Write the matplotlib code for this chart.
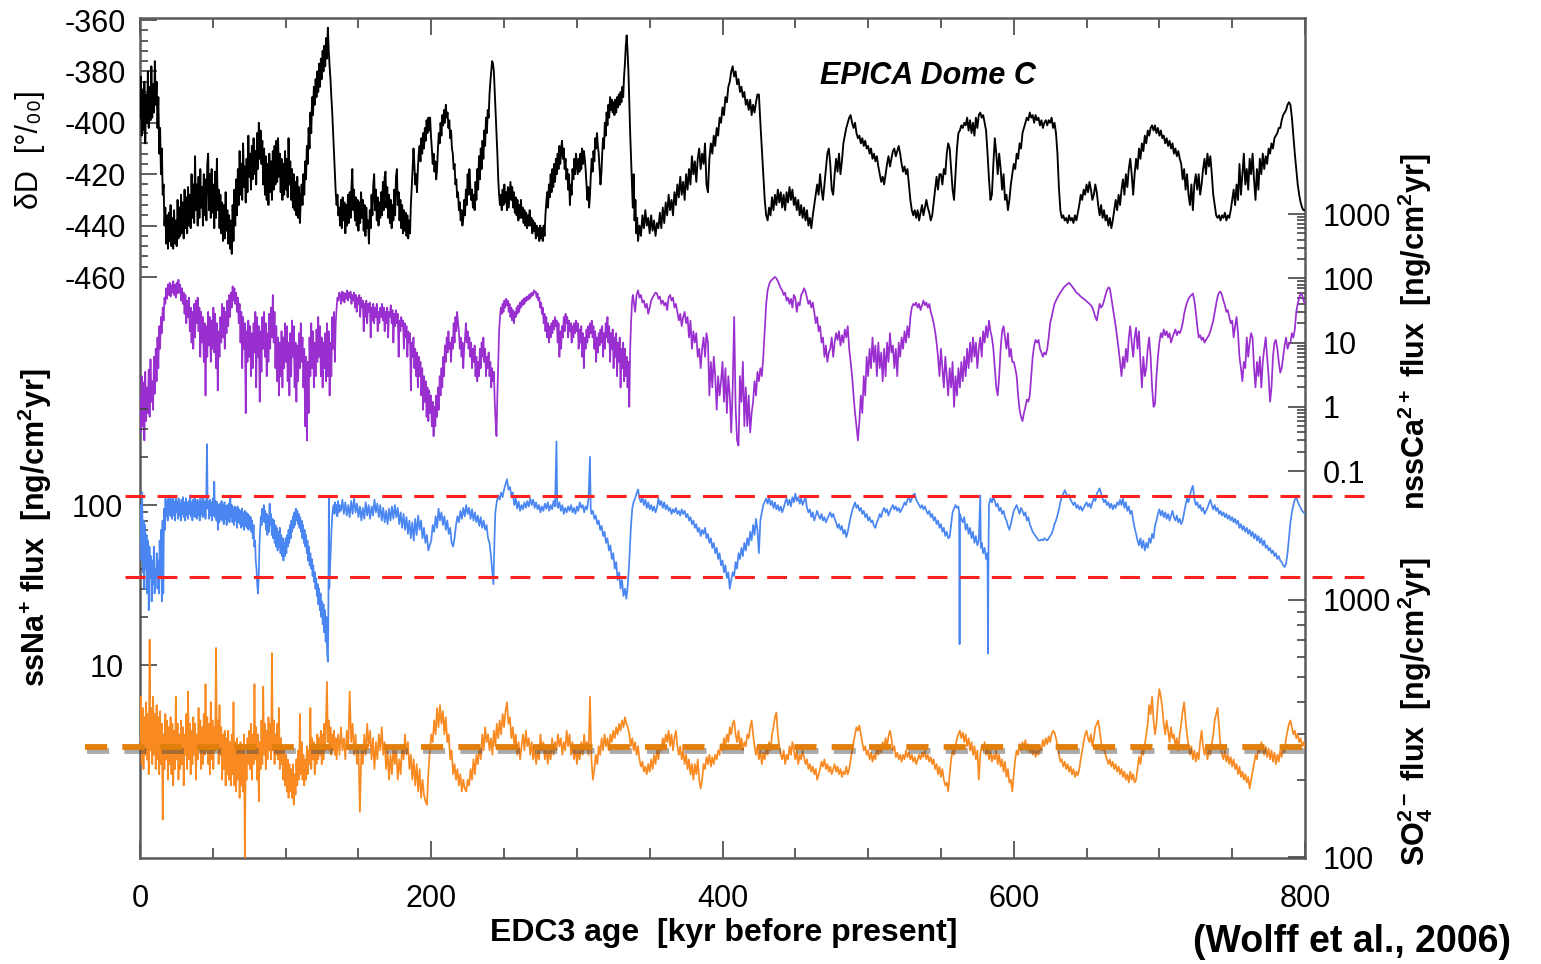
import matplotlib
matplotlib.use("Agg")
import matplotlib.pyplot as plt
from matplotlib import ticker
from matplotlib import patheffects as pe

plt.rcParams['font.family'] = ['Liberation Sans', 'DejaVu Sans']
plt.rcParams['mathtext.fontset'] = 'custom'
plt.rcParams['mathtext.rm'] = 'Liberation Sans:bold'
plt.rcParams['mathtext.it'] = 'Liberation Sans:bold:italic'
plt.rcParams['mathtext.bf'] = 'Liberation Sans:bold'
plt.rcParams['mathtext.default'] = 'rm'

# ---------------- data (age kyr BP, value) ----------------
dD_pts = [
(0,-398),(0.6,-382),(1.2,-405),(1.8,-387),(2.4,-403),(3,-384),(3.6,-408),(4.2,-389),(4.8,-400),(5.4,-380),(6,-402),(6.6,-386),
(7.2,-399),(7.8,-378),(8.4,-398),(9,-385),(9.6,-396),(10.2,-376),(10.8,-393),(11.4,-384),(12,-402),(12.6,-390),(13.2,-412),
(13.8,-402),(14.4,-420),(15,-410),(15.6,-428),(16.2,-424),(16.8,-440),
(17.4,-433),(18,-447),(18.6,-436),(19.2,-449),(19.8,-435),(20.4,-446),(21,-432),(21.6,-448),(22.2,-437),(22.8,-449),(23.4,-434),
(24,-447),(24.6,-438),(25.2,-448),(25.8,-430),(26.4,-445),(27,-433),(27.6,-444),(28.2,-428),(28.8,-443),(29.4,-431),(30,-445),
(30.6,-426),(31.2,-441),(31.8,-429),(32.4,-443),(33,-425),(33.6,-440),(34.2,-428),(34.8,-441),(35.4,-420),(36,-437),(36.6,-424),
(37.2,-439),(37.8,-413),(38.4,-434),(39,-424),(39.6,-440),(40.2,-421),(40.8,-437),(41.4,-418),(42,-433),(42.6,-425),(43.2,-440),
(43.8,-420),(44.4,-436),(45,-422),(45.6,-438),(46.2,-416),(46.8,-412),(47.4,-434),(48,-420),(48.6,-437),(49.2,-418),(49.8,-435),
(50.4,-424),(51,-441),(51.6,-419),(52.2,-437),(52.8,-414),(53.4,-434),(54,-426),(54.6,-441),(55.2,-428),(55.8,-443),(56.4,-431),
(57,-446),(57.6,-432),(58.2,-445),(58.8,-427),(59.4,-442),(60,-434),(60.6,-447),(61.2,-436),(61.8,-449),(62.4,-438),(63,-451),
(63.6,-432),(64.2,-446),
(64.8,-426),(65.4,-440),(66,-422),(66.6,-436),(67.2,-418),(67.8,-432),(68.4,-411),(69,-428),(69.6,-416),(70.2,-430),(70.8,-408),
(71.4,-425),(72,-417),(72.6,-431),(73.2,-414),(73.8,-427),(74.4,-405),(75,-421),(75.6,-412),(76.2,-426),(76.8,-409),(77.4,-422),
(78,-406),(78.6,-420),(79.2,-411),(79.8,-424),(80.4,-404),(81,-418),(81.6,-400),(82.2,-414),(82.8,-403),(83.4,-416),(84,-407),
(84.6,-424),(85.2,-410),(85.8,-428),(86.4,-413),(87,-430),(87.6,-416),(88.2,-432),(88.8,-412),(89.4,-427),(90,-415),(90.6,-430),
(91.2,-411),(91.8,-426),(92.4,-409),(93,-424),(93.6,-407),(94.2,-423),(94.8,-406),(95.4,-421),(96,-412),(96.6,-427),(97.2,-414),
(97.8,-430),(98.4,-416),(99,-428),(99.6,-411),(100.2,-426),(100.8,-414),(101.4,-429),(102,-406),(102.6,-424),(103.2,-415),
(103.8,-430),(104.4,-418),(105,-433),(105.6,-420),(106.2,-434),(106.8,-423),(107.4,-436),(108,-421),(108.6,-437),(109.2,-425),
(109.8,-439),(110.4,-430),
(111,-424),(111.6,-432),(112.2,-420),(112.8,-428),(113.4,-415),(114,-422),(114.6,-409),(115.2,-416),(115.8,-402),(116.4,-410),
(117,-396),(117.6,-404),(118.2,-390),(118.8,-397),(119.4,-386),(120,-393),(120.6,-383),(121.2,-390),(121.8,-380),(122.4,-388),
(123,-377),(123.6,-386),(124.2,-375),(124.8,-383),(125.4,-372),(126,-380),(126.6,-370),(127.2,-378),(127.8,-367),(128.4,-375),
(129,-363),(129.6,-372),(130.2,-378),
(130.8,-383),(131.4,-390),(132,-396),(132.6,-404),(133.2,-412),(133.8,-420),(134.4,-427),(135,-432),(135.6,-428),(136.2,-436),
(136.8,-433),
(137.4,-440),(138,-430),(138.6,-441),(139.2,-429),(139.8,-438),(140.4,-431),(141,-443),(141.6,-432),(142.2,-440),(142.8,-428),
(143.4,-439),(144,-427),(144.6,-437),(145.2,-425),(145.8,-418),(146.4,-434),(147,-426),(147.6,-438),(148.2,-429),(148.8,-440),
(149.4,-430),(150,-442),(150.6,-431),(151.2,-439),(151.8,-427),(152.4,-437),(153,-430),(153.6,-442),(154.2,-432),(154.8,-444),
(155.4,-433),(156,-441),(156.6,-438),(157.2,-447),(157.8,-434),(158.4,-441),(159,-428),(159.6,-436),(160.2,-424),(160.8,-420),
(161.4,-434),(162,-426),(162.6,-438),(163.2,-429),(163.8,-440),(164.4,-431),(165,-437),(165.6,-427),(166.2,-436),(166.8,-423),
(167.4,-434),(168,-421),(168.6,-419),(169.2,-433),(169.8,-425),(170.4,-437),(171,-428),(171.6,-439),(172.2,-430),(172.8,-441),
(173.4,-432),(174,-438),(174.6,-426),(175.2,-436),(175.8,-421),(176.4,-418),(177,-432),(177.6,-427),(178.2,-438),(178.8,-430),
(179.4,-441),(180,-432),(180.6,-443),(181.2,-434),(181.8,-442),(182.4,-435),(183,-444),(183.6,-436),(184.2,-445),(184.8,-438),
(185.4,-443),
(186,-432),(186.6,-425),(187.2,-418),(187.8,-410),(188.4,-416),(189,-424),(189.6,-420),(190.2,-427),(190.8,-418),(191.4,-412),
(192,-409),(192.6,-415),(193.2,-406),(193.8,-412),(194.4,-404),(195,-410),(195.6,-402),(196.2,-407),(196.8,-399),(197.4,-404),
(198,-398),(198.6,-403),(199.2,-398),(199.8,-405),(200.4,-410),(201,-416),(201.6,-412),(202.2,-419),(202.8,-415),(203.4,-422),
(204,-418),(204.6,-410),(205.2,-404),(205.8,-408),(206.4,-400),(207,-405),(207.6,-397),(208.2,-401),(208.8,-395),(209.4,-400),
(210,-393),(210.6,-398),(211.2,-396),(211.8,-402),(212.4,-399),(213,-406),(213.6,-403),(214.2,-410),(214.8,-412),(215.4,-418),
(216,-416),(216.6,-424),(217.2,-422),(217.8,-429),(218.4,-427),(219,-434),(219.6,-431),(220.2,-438),(220.8,-434),(221.4,-440),
(222,-437),(222.6,-430),(223.2,-436),(223.8,-426),(224.4,-432),(225,-420),(225.6,-428),(226.2,-418),(226.8,-425),(227.4,-430),
(228,-426),(228.6,-433),(229.2,-428),(229.8,-434),(230.4,-423),(231,-430),(231.6,-418),(232.2,-426),(232.8,-413),(233.4,-422),
(234,-410),(234.6,-418),(235.2,-407),(235.8,-414),(236.4,-403),(237,-409),(237.6,-398),(238.2,-404),(238.8,-395),(239.4,-398),
(240,-389),(240.6,-384),(241.2,-380),(241.8,-376),(242.4,-377),(243,-380),(243.6,-388),(244.2,-396),(244.8,-403),(245.4,-412),
(246,-422),(246.6,-428),(247.2,-432),
(247.8,-428),(248.4,-434),(249,-426),(249.6,-432),(250.2,-424),(250.8,-431),(251.4,-427),(252,-434),(252.6,-425),(253.2,-433),
(253.8,-428),(254.4,-423),(255,-430),(255.6,-425),(256.2,-433),(256.8,-427),(257.4,-435),(258,-429),(258.6,-436),(259.2,-430),
(259.8,-438),(260.4,-432),(261,-437),(261.6,-430),(262.2,-437),(262.8,-433),(263.4,-439),(264,-434),(264.6,-440),(265.2,-435),
(265.8,-441),(266.4,-436),(267,-440),(267.6,-434),(268.2,-440),(268.8,-437),(269.4,-443),(270,-438),(270.6,-442),(271.2,-439),
(271.8,-445),(272.4,-440),(273,-444),(273.6,-441),(274.2,-446),(274.8,-440),(275.4,-445),(276,-441),(276.6,-446),(277.2,-440),
(277.8,-444),
(278.4,-436),(279,-431),(279.6,-427),(280.2,-433),(280.8,-424),(281.4,-429),(282,-420),(282.6,-427),(283.2,-418),(283.8,-425),
(284.4,-416),(285,-423),(285.6,-414),(286.2,-420),(286.8,-412),(287.4,-418),(288,-409),(288.6,-416),(289.2,-410),(289.8,-407),
(290.4,-414),(291,-410),(291.6,-418),(292.2,-414),(292.8,-422),(293.4,-418),(294,-426),(294.6,-420),(295.2,-432),(295.8,-424),
(296.4,-428),(297,-418),(297.6,-422),(298.2,-414),(298.8,-420),(299.4,-412),(300,-416),(300.6,-420),(301.2,-414),(301.8,-419),
(302.4,-412),(303,-418),(303.6,-410),(304.2,-416),(304.8,-411),(305.4,-414),(306,-418),(306.6,-424),(307.2,-430),(307.8,-425),
(308.4,-433),(309,-428),(309.6,-420),(310.2,-414),(310.8,-419),(311.4,-411),(312,-415),(312.6,-406),(313.2,-410),(313.8,-404),
(314.4,-409),(315,-412),(315.6,-418),(316.2,-424),(316.8,-420),(317.4,-412),(318,-406),(318.6,-410),(319.2,-400),(319.8,-405),
(320.4,-396),(321,-401),(321.6,-393),(322.2,-398),(322.8,-390),(323.4,-395),(324,-391),(324.6,-396),(325.2,-392),(325.8,-397),
(326.4,-391),(327,-396),(327.6,-390),(328.2,-394),(328.8,-389),(329.4,-393),(330,-388),(330.6,-392),(331.2,-386),(331.8,-390),
(332.4,-382),(333,-377),(333.6,-370),(334.2,-366),(334.8,-372),
(335.4,-380),(336,-392),(336.6,-404),(337.2,-414),(337.8,-424),(338.4,-433),(339,-420),(339.6,-438),(340.2,-430),(340.8,-443),
(341.4,-437),(342,-446),
(343,-440),(344,-444),(345,-436),(346,-441),(347,-434),(348,-440),(349,-437),(350,-443),(351,-436),(352,-442),(353,-438),(354,-444),
(355,-439),(356,-441),(357,-435),(358,-441),(359,-433),(360,-439),(361,-431),(362,-436),(363,-428),(364,-434),(365,-430),(366,-436),
(367,-427),(368,-432),(369,-424),(370,-429),(371,-421),(372,-428),(373,-423),(374,-430),(375,-420),(376,-426),(377,-418),(378,-424),
(379,-413),(380,-420),(381,-415),(382,-423),(383,-414),(384,-410),(385,-418),(386,-412),(387,-416),(388,-408),(389,-424),(390,-427),
(391,-414),(392,-408),(393,-412),(394,-405),(395,-409),(396,-402),(397,-405),(398,-398),(399,-400),(400,-394),(401,-397),(402,-390),
(403,-392),(404,-386),(405,-384),(406,-380),(407,-378),(408,-382),(409,-380),(410,-385),(411,-383),(412,-388),(413,-386),(414,-390),
(415,-388),(416,-393),(417,-391),(418,-395),(419,-391),(420,-397),(421,-393),(422,-396),(423,-392),(424,-389),(425,-389),(426,-400),
(427,-410),(428,-420),(429,-430),(430,-436),(431,-438),
(432,-433),(433,-436),(434,-429),(435,-434),(436,-428),(437,-432),(438,-426),(439,-431),(440,-427),(441,-433),(442,-428),(443,-434),
(444,-427),(445,-431),(446,-425),(447,-430),(448,-426),(449,-432),(450,-429),(451,-434),(452,-430),(453,-436),(454,-432),(455,-437),
(456,-433),(457,-438),(458,-434),(459,-440),(460,-437),(461,-441),(462,-436),(463,-432),(464,-428),(465,-424),(466,-428),(467,-420),
(468,-426),(469,-430),(470,-424),(471,-418),(472,-412),(473,-410),(474,-416),(475,-426),(476,-428),(477,-420),(478,-414),(479,-419),
(480,-412),(481,-420),(482,-415),(483,-408),(484,-405),(485,-402),(486,-400),(487,-398),(488,-397),(489,-400),(490,-402),(491,-400),
(492,-404),(493,-406),(494,-405),(495,-408),(496,-406),(497,-409),(498,-407),(499,-410),(500,-409),(501,-412),(502,-410),(503,-414),
(504,-412),(505,-415),(506,-413),(507,-417),(508,-420),(509,-423),(510,-421),(511,-424),(512,-420),(513,-416),(514,-413),(515,-417),
(516,-414),(517,-411),(518,-410),(519,-413),(520,-411),(521,-409),(522,-412),(523,-416),(524,-419),(525,-417),(526,-420),(527,-418),
(528,-424),(529,-430),(530,-434),(531,-436),(532,-434),(533,-437),(534,-434),(535,-438),(536,-435),(537,-432),(538,-436),(539,-433),
(540,-430),(541,-433),(542,-435),(543,-438),(544,-436),(545,-431),(546,-426),(547,-421),(548,-426),(549,-420),
(550,-420),(551,-424),(552,-418),(553,-420),(554,-412),(555,-408),(556,-410),(557,-418),(558,-426),(559,-430),(560,-420),(561,-410),
(562,-404),(563,-403),(564,-401),(565,-402),(566,-400),(567,-401),(568,-398),(569,-403),(570,-399),(571,-404),(572,-400),(573,-405),
(574,-398),(575,-402),(576,-397),(577,-396),(578,-398),(579,-397),(580,-400),(581,-403),(582,-412),(583,-422),(584,-430),(585,-428),
(586,-416),(587,-406),(588,-412),(589,-420),(590,-412),(591,-418),(592,-426),(593,-420),(594,-430),(595,-428),(596,-434),(597,-430),
(598,-424),(599,-420),(600,-416),(601,-418),(602,-412),(603,-414),(604,-408),(605,-410),(606,-404),(607,-402),(608,-400),(609,-398),
(610,-399),(611,-396),(612,-398),(613,-397),(614,-400),(615,-397),(616,-399),(617,-398),(618,-401),(619,-399),(620,-402),(621,-400),
(622,-399),(623,-401),(624,-399),(625,-400),(626,-398),(627,-402),(628,-400),(629,-404),(630,-412),(631,-425),(632,-434),(633,-437),
(634,-436),(635,-438),(636,-437),(637,-439),(638,-436),(639,-438),(640,-437),(641,-439),(642,-436),(643,-438),(644,-435),(645,-432),
(646,-428),(647,-430),(648,-426),(649,-428),(650,-424),(651,-427),(652,-423),(653,-426),(654,-430),(655,-428),(656,-424),(657,-427),
(658,-432),(659,-436),(660,-432),(661,-437),(662,-434),(663,-438),(664,-436),(665,-440),(666,-437),(667,-441),(668,-438),(669,-434),
(670,-430),(671,-434),(672,-428),(673,-432),(674,-426),(675,-422),(676,-428),(677,-420),(678,-425),(679,-418),(680,-414),(681,-420),
(682,-428),(683,-420),(684,-414),(685,-418),(686,-410),(687,-414),(688,-408),(689,-411),(690,-405),(691,-408),(692,-403),(693,-405),
(694,-402),(695,-401),(696,-403),(697,-401),(698,-404),(699,-402),(700,-405),(701,-403),(702,-406),(703,-405),(704,-408),(705,-406),
(706,-409),(707,-407),(708,-410),(709,-408),(710,-412),(711,-410),(712,-413),(713,-411),(714,-414),(715,-416),(716,-422),(717,-418),
(718,-426),(719,-420),(720,-428),(721,-432),(722,-424),(723,-434),(724,-424),(725,-420),(726,-426),(727,-420),(728,-428),(729,-424),
(730,-418),(731,-414),(732,-420),(733,-412),(734,-417),(735,-413),(736,-420),(737,-428),(738,-432),(739,-436),(740,-437),(741,-436),
(742,-438),(743,-436),(744,-437),(745,-435),(746,-438),(747,-436),(748,-437),(749,-434),(750,-430),(751,-426),(752,-432),(753,-424),
(754,-430),(755,-416),(756,-428),(757,-420),(758,-412),(759,-424),(760,-418),(761,-426),(762,-414),(763,-420),(764,-412),(765,-422),
(766,-430),(767,-418),(768,-426),(769,-414),(770,-420),(771,-412),(772,-418),(773,-413),(774,-416),(775,-410),(776,-412),(777,-408),
(778,-410),(779,-406),(780,-405),(781,-404),(782,-402),(783,-402),(784,-399),(785,-397),(786,-396),(787,-395),(788,-393),(789,-392),
(790,-393),(791,-398),(792,-405),(793,-412),(794,-418),(795,-424),(796,-428),(797,-431),(798,-433),(799,-434),(800,-434),
]

ca_pts = [
(0,1.5),(0.6,0.4),(1.2,3.0),(1.8,0.5),(2.4,2.4),(3,0.3),(3.6,3.5),(4.2,0.6),(4.8,2.0),(5.4,0.8),(6,3.8),(6.6,0.7),(7.2,5.5),
(7.8,1.2),(8.4,2.5),(9,0.9),(9.6,6),(10.2,1.6),(10.8,8),(11.4,2.5),(12,12),(12.6,4),(13.2,18),(13.8,8),(14.4,25),(15,14),
(15.6,35),(16.2,22),(16.8,50),(17.4,40),(18,70),(18.6,48),(19.2,80),(19.8,55),(20.4,85),(21,52),(21.6,78),(22.2,60),(22.8,90),
(23.4,55),(24,80),(24.6,50),(25.2,85),(25.8,58),(26.4,95),(27,60),(27.6,80),(28.2,45),(28.8,70),(29.4,40),(30,60),(30.6,28),
(31.2,55),(31.8,20),(32.4,45),(33,25),(33.6,50),(34.2,15),(34.8,35),(35.4,10),(36,30),(36.6,8),(37.2,40),(37.8,12),(38.4,45),
(39,20),(39.6,50),(40.2,15),(40.8,35),(41.4,6),(42,30),(42.6,10),(43.2,25),(43.8,5),(44.4,20),(45,1.5),(45.6,18),(46.2,6),
(46.8,30),(47.4,9),(48,25),(48.6,5),(49.2,22),(49.8,8),(50.4,35),(51,7),(51.6,28),(52.2,4),(52.8,20),(53.4,1.8),(54,15),
(54.6,6),(55.2,25),(55.8,10),(56.4,40),(57,12),(57.6,35),(58.2,8),(58.8,30),(59.4,14),(60,45),(60.6,18),(61.2,55),(61.8,25),
(62.4,60),(63,35),(63.6,75),(64.2,45),(64.8,70),(65.4,40),(66,60),(66.6,30),(67.2,50),(67.8,20),(68.4,40),(69,10),(69.6,30),
(70.2,4),(70.8,25),(71.4,8),(72,20),(72.6,0.8),(73.2,15),(73.8,5),(74.4,22),(75,6),(75.6,18),(76.2,3),(76.8,14),(77.4,4),
(78,20),(78.6,7),(79.2,30),(79.8,2),(80.4,25),(81,6),(81.6,18),(82.2,1.2),(82.8,15),(83.4,3.5),(84,25),(84.6,8),(85.2,30),
(85.8,6),(86.4,20),(87,3),(87.6,14),(88.2,5),(88.8,28),(89.4,8),(90,35),(90.6,12),(91.2,55),(91.8,10),(92.4,30),(93,4),
(93.6,18),(94.2,2.5),(94.8,12),(95.4,1.5),(96,10),(96.6,3),(97.2,15),(97.8,2),(98.4,12),(99,4),(99.6,20),(100.2,5),(100.8,18),
(101.4,2.5),(102,10),(102.6,1.5),(103.2,14),(103.8,3),(104.4,22),(105,6),(105.6,18),(106.2,2),(106.8,10),(107.4,1.2),(108,9),
(108.6,2.5),(109.2,14),(109.8,4),(110.4,20),(111,5),(111.6,12),(112.2,2),(112.8,8),(113.4,0.5),(114,6),(114.6,0.3),(115.2,5),
(115.8,0.8),(116.4,12),(117,3),(117.6,20),(118.2,4),(118.8,15),(119.4,2),(120,10),(120.6,3),(121.2,16),(121.8,5),(122.4,25),
(123,6),(123.6,18),(124.2,3),(124.8,12),(125.4,2),(126,10),(126.6,4),(127.2,14),(127.8,2.5),(128.4,20),(129,3),(129.6,15),
(130.2,1.5),(130.8,10),(131.4,3),(132,25),(132.6,8),(133.2,30),(133.8,5),(134.4,20),(135,35),(135.6,50),(136.2,45),(136.8,60),
(137.4,55),(138,40),(138.6,62),(139.2,45),(139.8,60),(140.4,42),(141,58),(141.6,48),(142.2,65),(142.8,45),(143.4,60),(144,50),
(144.6,62),(145.2,40),(145.8,55),(146.4,45),(147,60),(147.6,35),(148.2,55),(148.8,30),(149.4,50),(150,40),(150.6,55),(151.2,25),
(151.8,50),(152.4,35),(153,45),(153.6,15),(154.2,40),(154.8,25),(155.4,45),(156,20),(156.6,40),(157.2,30),(157.8,42),(158.4,12),
(159,35),(159.6,22),(160.2,40),(160.8,20),(161.4,35),(162,25),(162.6,40),(163.2,15),(163.8,30),(164.4,20),(165,35),(165.6,25),
(166.2,40),(166.8,22),(167.4,35),(168,15),(168.6,30),(169.2,20),(169.8,35),(170.4,12),(171,30),(171.6,25),(172.2,38),(172.8,20),
(173.4,32),(174,10),(174.6,28),(175.2,18),(175.8,32),(176.4,20),(177,28),(177.6,6),(178.2,22),(178.8,15),(179.4,25),(180,18),
(180.6,22),(181.2,8),(181.8,20),(182.4,12),(183,18),(183.6,6),(184.2,15),(184.8,10),(185.4,14),(186,1.8),(186.6,10),(187.2,6),
(187.8,12),(188.4,4),(189,8),(189.6,3),(190.2,7),(190.8,2),(191.4,6),(192,3),(192.6,5),(193.2,1.5),(193.8,4),(194.4,0.9),
(195,3),(195.6,1.2),(196.2,2.5),(196.8,0.7),(197.4,2),(198,0.6),(198.6,1.8),(199.2,0.8),(199.8,1.5),(200.4,0.5),(201,1.2),
(201.6,0.35),(202.2,1),(202.8,0.5),(203.4,1.5),(204,0.7),(204.6,2),(205.2,0.9),(205.8,3),(206.4,1.5),(207,4),(207.6,2),
(208.2,6),(208.8,3),(209.4,9),(210,5),(210.6,12),(211.2,7),(211.8,15),(212.4,8),(213,10),(213.6,5),(214.2,12),(214.8,8),
(215.4,20),(216,10),(216.6,25),(217.2,15),(217.8,30),(218.4,20),(219,15),(219.6,8),(220.2,12),(220.8,6),(221.4,10),(222,4),
(222.6,8),(223.2,12),(223.8,20),(224.4,10),(225,15),(225.6,8),(226.2,12),(226.8,6),(227.4,10),(228,4),(228.6,8),(229.2,5),
(229.8,9),(230.4,3),(231,6),(231.6,2.5),(232.2,5),(232.8,3),(233.4,8),(234,4),(234.6,10),(235.2,6),(235.8,12),(236.4,5),
(237,8),(237.6,3),(238.2,6),(238.8,4),(239.4,7),(240,3),(240.6,5),(241.2,2),(241.8,4),(242.4,2.5),(243,3.5),(243.6,1.2),
(244.2,0.6),(244.8,0.35),(245.4,1.5),(246,5),(246.6,15),(247.2,25),(247.8,35),(248.4,28),(249,40),(249.6,30),(250.2,45),
(250.8,35),(251.4,48),(252,38),(252.6,45),(253.2,30),(253.8,40),(254.4,25),(255,35),(255.6,22),(256.2,32),(256.8,20),(257.4,30),
(258,25),(258.6,35),(259.2,28),(259.8,38),(260.4,30),(261,42),(261.6,35),(262.2,45),(262.8,38),(263.4,48),(264,40),(264.6,50),
(265.2,44),(265.8,52),(266.4,46),(267,55),(267.6,48),(268.2,58),(268.8,52),(269.4,60),(270,55),(270.6,65),(271.2,60),(271.8,62),
(272.4,50),(273,58),(273.6,45),(274.2,50),(274.8,35),(275.4,42),(276,28),(276.6,35),(277.2,20),(277.8,28),(278.4,15),(279,25),
(279.6,12),(280.2,20),(280.8,10),(281.4,18),(282,12),(282.6,20),(283.2,14),(283.8,22),(284.4,16),(285,25),(285.6,18),(286.2,22),
(286.8,10),(287.4,20),(288,6),(288.6,15),(289.2,8),(289.8,18),(290.4,12),(291,25),(291.6,15),(292.2,28),(292.8,20),(293.4,25),
(294,12),(294.6,22),(295.2,15),(295.8,20),(296.4,10),(297,18),(297.6,12),(298.2,20),(298.8,14),(299.4,22),(300,15),(300.6,20),
(301.2,8),(301.8,16),(302.4,10),(303,18),(303.6,6),(304.2,14),(304.8,4),(305.4,12),(306,8),(306.6,16),(307.2,10),(307.8,18),
(308.4,12),(309,20),(309.6,14),(310.2,22),(310.8,12),(311.4,18),(312,8),(312.6,15),(313.2,5),(313.8,12),(314.4,7),(315,14),
(315.6,9),(316.2,16),(316.8,10),(317.4,18),(318,6),(318.6,14),(319.2,8),(319.8,20),(320.4,12),(321,25),(321.6,10),(322.2,18),
(322.8,5),(323.4,14),(324,8),(324.6,16),(325.2,4),(325.8,12),(326.4,6),(327,14),(327.6,3),(328.2,10),(328.8,5),(329.4,12),
(330,2),(330.6,8),(331.2,4),(331.8,10),(332.4,2.5),(333,8),(333.6,3),(334.2,6),(334.8,2),(335.4,5),(336,1),(336.6,8),
(337.2,20),(337.8,40),(338.4,55),
(339,45),(340,30),(341,55),(342,65),(343,50),(344,55),(345,42),(346,45),(347,35),(348,40),(349,28),(350,35),(351,45),(352,50),
(353,55),(354,60),(355,58),(356,48),(357,52),(358,40),(359,45),(360,38),(361,42),(362,32),(363,50),(364,55),(365,45),(366,50),
(367,35),(368,40),(369,30),(370,22),(371,28),(372,18),(373,25),(374,30),(375,20),(376,25),(377,12),(378,22),(379,8),(380,15),
(381,10),(382,14),(383,6),(384,8),(385,4),(386,8),(387,12),(388,6),(389,14),(390,10),(391,1.5),(392,5),(393,2),(394,6),(395,3),
(396,0.9),(397,3),(398,1.5),(399,2.5),(400,5),(401,1.2),(402,4),(403,0.8),(404,3),(405,1.5),(406,0.4),(407,2),(408,25),(409,1),
(410,0.3),(411,0.25),(412,3),(413,1.2),(414,5),(415,0.5),(416,2),(417,0.5),(418,1.5),(419,0.4),(420,0.8),(421,1.2),(422,2.5),
(423,1.5),(424,3.5),(425,2.5),(426,4),(427,3),(428,6),(429,15),(430,40),(431,65),(432,80),(433,90),(434,95),(435,100),(436,105),
(437,100),(438,90),(439,80),(440,70),(441,65),(442,55),(443,60),(444,45),(445,50),(446,40),(447,48),(448,35),(449,55),(450,50),
(451,30),(452,42),(453,38),(454,55),(455,60),(456,70),(457,62),(458,50),(459,40),(460,45),(461,35),(462,42),(463,30),(464,20),
(465,25),(466,15),(467,18),(468,10),(469,12),(470,6),(471,9),(472,5),(473,7),(474,8),(475,12),(476,6),(477,10),(478,14),(479,11),
(480,15),(481,9),(482,13),(483,10),(484,16),(485,12),(486,18),(487,8),(488,5),(489,3),(490,1.5),(491,0.8),(492,0.5),(493,0.3),
(494,0.6),(495,1.5),(496,0.8),(497,3),(498,1.5),(499,6),(500,3),(501,8),(502,4),(503,12),(504,5),(505,9),(506,3),(507,10),
(508,4),(509,7),(510,2.5),(511,8),(512,3),(513,10),(514,5),(515,14),(516,7),(517,9),(518,4),(519,8),(520,3),(521,10),(522,6),
(523,12),(524,8),(525,15),(526,10),(527,18),(528,12),(529,25),(530,35),(531,40),(532,38),(533,42),(534,35),(535,40),(536,32),
(537,38),(538,45),(539,38),(540,42),(541,35),(542,40),(543,30),(544,25),(545,20),(546,15),(547,10),(548,6),(549,3),(550,8),
(551,4),(552,2),(553,6),(554,3),(555,1.5),(556,4),(557,2),(558,5),(559,1),(560,3),(561,1.5),(562,4),(563,2),(564,5),(565,2.5),
(566,6),(567,3),(568,8),(569,4),(570,10),(571,5),(572,12),(573,6),(574,10),(575,4),(576,8),(577,12),(578,6),(579,15),(580,10),
(581,18),(582,12),(583,22),(584,15),(585,12),(586,8),(587,4),(588,2),(589,1.5),(590,3),(591,8),(592,15),(593,18),(594,12),
(595,8),(596,14),(597,6),(598,8),(599,5),(600,5),(601,4),(602,3),(603,1.5),(604,0.9),(605,0.7),(606,0.6),(607,0.8),(608,1),
(609,1.3),(610,1.2),(611,1.5),(612,3),(613,6),(614,9),(615,11),(616,10),(617,11),(618,8),(619,7),(620,6),(621,7),(622,6.5),
(623,8),(624,12),(625,20),(626,25),(627,32),(628,40),(629,45),(630,50),(631,55),(632,60),(633,65),(634,70),(635,75),(636,78),
(637,82),(638,85),(639,80),(640,75),(641,70),(642,65),(643,60),(644,58),(645,55),(646,52),(647,50),(648,48),(649,46),(650,44),
(651,42),(652,40),(653,38),(654,35),(655,30),(656,25),(657,22),(658,30),(659,40),(660,35),(661,38),(662,45),(663,55),(664,65),
(665,72),(666,70),(667,50),(668,35),(669,25),(670,18),(671,12),(672,8),(673,5),(674,3),(675,6),(676,4),(677,8),(678,5),(679,12),
(680,18),(681,10),(682,6),(683,12),(684,17),(685,8),(686,15),(687,5),(688,2),(689,6),(690,3),(691,4),(692,8),(693,12),(694,6),
(695,2),(696,1),(697,1.1),(698,3),(699,6),(700,10),(701,14),(702,12),(703,16),(704,13),(705,15),(706,12),(707,14),(708,10),
(709,12),(710,14),(711,16),(712,13),(713,15),(714,14),(715,16),(716,20),(717,28),(718,35),(719,42),(720,48),(721,52),(722,55),
(723,58),(724,45),(725,30),(726,18),(727,12),(728,13),(729,11),(730,12),(731,10),(732,11),(733,12),(734,13),(735,15),(736,18),
(737,22),(738,30),(739,40),(740,52),(741,60),(742,62),(743,55),(744,45),(745,38),(746,30),(747,32),(748,25),(749,20),(750,22),
(751,12),(752,18),(753,25),(754,14),(755,6),(756,4),(757,2.5),(758,5),(759,4),(760,12),(761,6),(762,10),(763,14),(764,12),
(765,4),(766,2),(767,5),(768,3),(769,6),(770,2),(771,5),(772,8),(773,12),(774,6),(775,3),(776,1.2),(777,2),(778,6),(779,10),
(780,11),(781,8),(782,5),(783,3.4),(784,4),(785,6),(786,9),(787,12),(788,8),(789,9.5),(790,10),(791,14),(792,12),(793,16),
(794,30),(795,40),(796,50),(797,58),(798,55),(799,45),(800,40),
]

na_pts = [
(0,60),(0.5,100),(1,45),(1.5,120),(2,38),(2.5,80),(3,30),(3.5,75),(4,40),(4.5,65),(5,28),(5.5,60),(6,22),(6.5,55),(7,35),
(7.5,48),(8,25),(8.5,45),(9,32),(9.5,55),(10,28),(10.5,40),(11,35),(11.5,50),(12,30),(12.5,45),(13,28),(13.5,60),(14,35),
(14.5,70),(15,25),(15.5,80),(16,28),(16.5,95),(17,70),(17.5,110),(18,85),(18.5,105),(19,80),
(19.5,110),(20,88),(20.5,115),(21,85),(21.5,108),(22,82),(22.5,112),(23,86),(23.5,105),(24,80),(24.5,110),(25,90),(25.5,104),
(26,82),(26.5,110),(27,86),(27.5,102),(28,80),(28.5,108),(29,88),(29.5,112),(30,84),(30.5,104),(31,80),(31.5,110),(32,86),
(32.5,104),(33,82),(33.5,106),(34,88),(34.5,115),(35,85),(35.5,104),(36,80),(36.5,108),(37,86),(37.5,112),(38,84),(38.5,105),
(39,82),(39.5,108),(40,86),(40.5,104),(41,80),(41.5,110),(42,88),(42.5,106),(43,84),(43.5,112),(44,86),(44.5,105),(45,82),
(45.5,110),(46,240),(46.5,95),(47,104),(47.5,82),(48,108),(48.5,86),(49,104),(49.5,80),(50,110),(50.5,86),(51,140),(51.5,84),
(52,106),(52.5,80),(53,104),(53.5,70),(54,100),(54.5,78),(55,102),(55.5,82),(56,106),(56.5,80),(57,100),(57.5,76),(58,104),
(58.5,82),(59,98),(59.5,75),(60,100),(60.5,80),(61,102),(61.5,78),(62,115),(62.5,84),(63,100),(63.5,78),(64,96),(64.5,75),
(65,98),(65.5,80),(66,95),(66.5,72),(67,98),(67.5,78),(68,94),(68.5,76),(69,92),(69.5,72),(70,95),(70.5,74),(71,90),(71.5,70),
(72,92),(72.5,74),(73,90),(73.5,72),(74,88),(74.5,70),(75,86),(75.5,72),(76,84),(76.5,68),(77,80),(77.5,62),(78,75),(78.5,55),
(79,60),(79.5,45),(80,40),(80.5,32),(81,28),(81.5,35),(82,55),(82.5,70),(83,85),(83.5,75),(84,95),(84.5,80),(85,100),(85.5,78),
(86,92),(86.5,70),(87,88),(87.5,65),(88,85),(88.5,68),(89,102),(89.5,75),(90,88),(90.5,65),(91,82),(91.5,62),(92,80),(92.5,58),
(93,75),(93.5,55),(94,72),(94.5,52),(95,68),(95.5,55),(96,72),(96.5,50),(97,65),(97.5,48),(98,62),(98.5,45),(99,58),(99.5,48),
(100,62),(100.5,50),(101,65),(101.5,55),(102,70),(102.5,58),(103,75),(103.5,62),(104,80),(104.5,68),(105,85),(105.5,72),(106,90),
(106.5,75),(107,95),(107.5,80),(108,92),(108.5,76),(109,88),(109.5,72),(110,84),(110.5,68),(111,80),(111.5,62),(112,75),
(112.5,58),(113,70),(113.5,55),(114,65),(114.5,50),(115,60),(115.5,45),(116,55),(116.5,42),(117,50),(117.5,40),(118,46),
(118.5,36),(119,42),(119.5,33),(120,38),(120.5,30),(121,35),(121.5,27),(122,32),(122.5,24),(123,30),(123.5,22),(124,28),
(124.5,20),(125,25),(125.5,18),(126,24),(126.5,16),(127,22),(127.5,14),(128,20),(128.5,12),(129,10.5),(129.3,18),(129.7,110),
(130,30),(130.5,40),(131,55),(131.5,70),(132,85),(132.5,95),(133,100),(133.5,88),(134,104),(134.5,90),(135,100),(135.5,85),
(136,106),(136.5,90),(137,100),
(138,92),(139,108),(140,88),(141,104),(142,86),(143,100),(144,84),(145,106),(146,88),(147,110),(148,90),(149,102),(150,84),
(151,98),(152,80),(153,96),(154,82),(155,104),(156,86),(157,100),(158,82),(159,98),(160,86),(161,108),(162,90),(163,102),
(164,84),(165,100),(166,80),(167,96),(168,78),(169,92),(170,76),(171,95),(172,80),(173,98),(174,82),(175,100),(176,84),(177,96),
(178,76),(179,90),(180,72),(181,88),(182,70),(183,84),(184,66),(185,80),(186,62),(187,78),(188,60),(189,82),(190,65),(191,86),
(192,70),(193,80),(194,62),(195,72),(196,58),(197,65),(198,52),(199,56),(200,60),(201,75),(202,68),(203,85),(204,72),(205,95),
(206,80),(207,90),(208,75),(209,85),(210,70),(211,80),(212,66),(213,72),(214,58),(215,55),(216,62),(217,75),(218,85),(219,78),
(220,92),(221,82),(222,96),(223,85),(224,100),(225,88),(226,96),(227,82),(228,94),(229,80),(230,90),(231,78),(232,86),(233,74),
(234,84),(235,72),(236,80),(237,70),(238,75),(239,62),(240,58),(241,48),(242,38),(242.7,32),(243.4,60),(244,90),(245,105),
(246,115),(247,108),(248,120),(249,112),(250,125),(251,135),(252,145),(253,125),(254,130),(255,115),(256,120),(257,100),(258,110),
(259,95),(260,105),(261,92),(262,100),(263,94),(264,104),(265,96),(266,106),(267,98),(268,110),(269,100),(270,108),(271,96),
(272,104),(273,94),(274,100),(275,90),(276,98),(277,92),(278,102),(279,95),(280,104),(281,92),(282,100),(283,94),(284,106),
(285,98),(286,250),(286.5,100),(287,96),(288,104),(289,92),(290,100),(291,88),(292,96),(293,90),(294,98),(295,92),(296,100),
(297,90),(298,96),(299,88),(300,98),(301,92),(302,104),(303,96),(304,100),(305,90),(306,98),(307,94),(308,110),(309,200),
(309.5,95),(310,88),(311,92),(312,82),(313,86),(314,76),(315,80),(316,70),(317,74),(318,64),(319,68),(320,58),(321,62),(322,52),
(323,56),(324,46),(325,50),(326,40),(327,44),(328,34),(329,38),(330,30),(331,34),(332,27),(333,30),(334,26),(335,32),(336,45),
(337,70),(338,95),(339,105),(340,110),
(341,118),(342,125),(343,110),(344,104),(345,112),(346,100),(347,108),(348,96),(349,104),(350,94),(351,100),(352,92),(353,98),
(354,90),(355,96),(356,110),(357,100),(358,106),(359,96),(360,104),(361,94),(362,100),(363,92),(364,96),(365,88),(366,94),
(367,90),(368,96),(369,88),(370,92),(371,86),(372,94),(373,88),(374,92),(375,84),(376,88),(377,80),(378,84),(379,76),(380,80),
(381,72),(382,76),(383,68),(384,72),(385,64),(386,70),(387,66),(388,72),(389,62),(390,66),(391,58),(392,62),(393,54),(394,58),
(395,50),(396,54),(397,46),(398,50),(399,42),(400,45),(401,38),(402,42),(403,35),(404,38),(405,30),(406,34),(407,38),(408,36),
(409,44),(410,40),(411,50),(412,46),(413,54),(414,48),(415,58),(416,52),(417,62),(418,56),(419,68),(420,60),(421,75),(422,65),
(423,82),(424,70),(425,50),(426,80),(427,90),(428,100),(429,105),(430,110),(431,102),(432,112),(433,100),(434,106),(435,96),
(436,104),(437,94),(438,100),(439,92),(440,98),(441,90),(442,96),(443,104),(444,110),(445,100),(446,108),(447,98),(448,112),
(449,104),(450,118),(451,106),(452,112),(453,102),(454,110),(455,100),(456,106),(457,112),(458,96),(459,90),(460,94),(461,84),
(462,90),(463,80),(464,86),(465,92),(466,86),(467,82),(468,88),(469,80),(470,84),(471,78),(472,82),(473,86),(474,90),(475,84),
(476,88),(477,82),(478,78),(479,72),(480,76),(481,70),(482,74),(483,66),(484,70),(485,63),(486,68),(487,76),(488,84),(489,92),
(490,98),(491,104),(492,96),(493,100),(494,92),(495,96),(496,88),(497,92),(498,84),(499,88),(500,80),(501,84),(502,78),(503,80),
(504,74),(505,72),(506,78),(507,82),(508,88),(509,84),(510,92),(511,96),(512,90),(513,94),(514,86),(515,92),(516,96),(517,100),
(518,94),(519,98),(520,92),(521,96),(522,90),(523,94),(524,98),(525,104),(526,100),(527,108),(528,112),(529,104),(530,110),
(531,116),(532,118),(533,108),(534,104),(535,100),(536,96),(537,100),(538,94),(539,98),(540,92),(541,88),(542,92),(543,84),
(544,88),(545,80),(546,84),(547,76),(548,80),(549,72),(550,76),(551,68),(552,72),(553,64),(554,68),(555,62),(556,63),(557,75),
(558,90),(559,95),(560,100),(561,96),(562,98),(562.5,90),(562.8,13.5),(563.1,88),(564,82),(565,78),(566,84),(567,70),(568,76),
(569,66),(570,72),(571,62),(572,68),(573,58),(574,64),(575,56),(576,60),(577,115),(577.4,54),(578,58),(579,50),(580,54),
(581,46),(582,50),(582.3,11.8),(582.7,60),(583,100),(584,110),(585,104),(586,112),(587,106),(588,98),(589,102),(590,92),
(591,96),(592,88),(593,92),(594,84),(595,80),(596,74),(597,70),(598,76),(599,84),(600,92),(601,96),(602,100),(603,94),(604,88),
(605,96),(606,92),(607,86),(608,90),(609,80),(610,84),(611,76),(612,72),(613,68),(614,66),(615,64),(616,62),(617,60),(618,60),
(619,61),(620,60),(621,62),(622,61),(623,60),(624,62),(625,64),(626,66),(627,70),(628,76),(629,80),(630,86),(631,94),(632,104),
(633,112),(634,118),(635,124),(636,118),(637,112),(638,116),(639,108),(640,104),(641,100),(642,104),(643,96),(644,100),(645,94),
(646,98),(647,92),(648,96),(649,100),(650,104),(651,98),(652,102),(653,96),(654,104),(655,110),(656,106),(657,118),(658,122),
(659,127),(660,118),(661,110),(662,104),(663,108),(664,100),(665,104),(666,96),(667,102),(668,94),(669,100),(670,96),(671,104),
(672,100),(673,108),(674,100),(675,110),(676,96),(677,104),(678,92),(679,98),(680,88),(681,92),(682,80),(683,72),(684,66),
(685,60),(686,56),(687,62),(688,54),(689,60),(690,52),(691,58),(692,54),(693,62),(694,58),(695,66),(696,62),(697,74),(698,80),
(699,88),(700,94),(701,86),(702,92),(703,84),(704,90),(705,82),(706,88),(707,80),(708,86),(709,92),(710,84),(711,80),(712,86),
(713,78),(714,82),(715,76),(716,80),(717,90),(718,100),(719,110),(720,104),(721,115),(722,125),(723,132),(724,110),(725,100),
(726,104),(727,96),(728,100),(729,92),(730,96),(731,88),(732,92),(733,96),(734,102),(735,108),(736,100),(737,94),(738,100),
(739,92),(740,96),(741,88),(742,92),(743,86),(744,90),(745,84),(746,88),(747,82),(748,86),(749,80),(750,84),(751,78),(752,82),
(753,76),(754,80),(755,72),(756,76),(757,70),(758,74),(759,68),(760,72),(761,66),(762,70),(763,64),(764,68),(765,62),(766,66),
(767,60),(768,64),(769,58),(770,62),(771,56),(772,60),(773,54),(774,56),(775,52),(776,54),(777,50),(778,52),(779,48),(780,50),
(781,46),(782,48),(783,45),(784,44),(785,42),(786,41),(787,43),(788,50),(789,62),(790,78),(791,90),(792,100),(793,108),(794,112),
(795,105),(796,100),(797,96),(798,92),(799,90),(800,88),
]

so4_pts = [
(0,280),(0.6,420),(1.2,230),(1.8,380),(2.4,220),(3,350),(3.6,250),(4.2,400),(4.8,240),(5.4,360),(6,210),(6.6,700),(7.2,260),
(7.8,380),(8.4,230),(9,420),(9.6,250),(10.2,360),(10.8,220),(11.4,390),(12,240),(12.6,350),(13.2,210),(13.8,370),(14.4,230),
(15,330),(15.6,140),(16.2,300),(16.8,220),(17.4,360),(18,240),(18.6,340),(19.2,200),(19.8,320),(20.4,230),(21,350),(21.6,210),
(22.2,330),(22.8,190),(23.4,310),(24,220),(24.6,420),(25.2,240),(25.8,330),(26.4,200),(27,300),(27.6,220),(28.2,340),(28.8,230),
(29.4,320),(30,190),(30.6,300),(31.2,250),(31.8,360),(32.4,220),(33,440),(33.6,240),(34.2,330),(34.8,210),(35.4,310),(36,230),
(36.6,350),(37.2,250),(37.8,330),(38.4,200),(39,300),(39.6,240),(40.2,380),(40.8,260),(41.4,340),(42,220),(42.6,320),(43.2,230),
(43.8,360),(44.4,250),(45,470),(45.6,260),(46.2,350),(46.8,230),(47.4,330),(48,210),(48.6,400),(49.2,240),(49.8,340),(50.4,220),
(51,320),(51.6,260),(52.2,650),(52.8,270),(53.4,340),(54,230),(54.6,390),(55.2,250),(55.8,320),(56.4,200),(57,300),(57.6,220),
(58.2,310),(58.8,190),(59.4,290),(60,210),(60.6,310),(61.2,200),(61.8,280),(62.4,190),(63,300),(63.6,210),(64.2,400),(64.8,190),
(65.4,280),(66,180),(66.6,290),(67.2,200),(67.8,270),(68.4,170),(69,280),(69.6,190),(70.2,260),(70.8,180),(71.4,300),(72,100),
(72.6,250),(73.2,200),(73.8,290),(74.4,230),(75,310),(75.6,220),(76.2,330),(76.8,200),(77.4,300),(78,230),(78.6,470),(79.2,240),
(79.8,320),(80.4,200),(81,300),(81.6,165),(82.2,280),(82.8,220),(83.4,340),(84,230),(84.6,460),(85.2,250),(85.8,330),(86.4,220),
(87,310),(87.6,240),(88.2,350),(88.8,260),(89.4,330),(90,240),(90.6,620),(91.2,260),(91.8,340),(92.4,230),(93,300),(93.6,250),
(94.2,330),(94.8,240),(95.4,380),(96,220),(96.6,290),(97.2,230),(97.8,270),(98.4,200),(99,260),(99.6,190),(100.2,250),(100.8,180),
(101.4,240),(102,170),(102.6,230),(103.2,180),(103.8,220),(104.4,170),(105,230),(105.6,160),(106.2,210),(106.8,175),(107.4,240),
(108,190),(108.6,260),(109.2,200),(109.8,360),(110.4,210),(111,280),(111.6,200),(112.2,250),(112.8,190),(113.4,240),(114,200),
(114.6,270),(115.2,210),(115.8,260),(116.4,230),(117,380),(117.6,220),(118.2,290),(118.8,240),(119.4,280),(120,210),(120.6,270),
(121.2,230),(121.8,300),(122.4,240),(123,290),(123.6,250),(124.2,310),(124.8,230),(125.4,300),(126,240),(126.6,330),(127.2,260),
(127.8,350),(128.4,480),(129,280),(129.6,340),(130.2,260),(130.8,320),(131.4,250),(132,300),(132.6,260),(133.2,310),(133.8,250),
(134.4,290),(135,240),
(136,300),(137,250),(138,320),(139,260),(140,290),(141,240),(142,310),(143,270),(144,440),(145,280),(146,330),(147,250),(148,300),
(149,230),(150,270),(151,150),(152,260),(153,230),(154,300),(155,250),(156,330),(157,270),(158,310),(159,240),(160,290),(161,220),
(162,280),(163,240),(164,300),(165,260),(166,320),(167,250),(168,280),(169,220),(170,260),(171,200),(172,250),(173,210),(174,270),
(175,230),(176,260),(177,200),(178,240),(179,210),(180,270),(181,240),(182,300),(183,250),(184,280),(185,220),(186,250),(187,200),
(188,240),(189,190),(190,230),(191,180),(192,220),(193,170),(194,200),(195,175),(196,165),(197,160),(198,210),(199,260),(200,300),
(201,280),(202,340),(203,300),(204,380),(205,320),(206,390),(207,330),(208,370),(209,300),(210,350),(211,280),(212,300),(213,240),
(214,260),(215,210),(216,230),(217,200),(218,220),(219,190),(220,210),(221,180),(222,200),(223,185),(224,180),(225,200),(226,190),
(227,220),(228,200),(229,240),(230,210),(231,250),(232,230),(233,270),(234,240),(235,300),(236,260),(237,320),(238,280),(239,300),
(240,260),(241,290),(242,250),(243,310),(244,270),(245,330),(246,290),(247,340),(248,300),(249,360),(250,320),(251,370),(252,400),
(253,330),(254,350),(255,290),(256,320),(257,270),(258,300),(259,250),(260,280),(261,240),(262,270),(263,300),(264,260),(265,310),
(266,270),(267,290),(268,250),(269,280),(270,240),(271,270),(272,230),(273,260),(274,240),(275,300),(276,260),(277,280),(278,240),
(279,270),(280,230),(281,260),(282,240),(283,290),(284,250),(285,280),(286,260),(287,300),(288,270),(289,290),(290,250),(291,280),
(292,260),(293,310),(294,270),(295,300),(296,250),(297,280),(298,240),(299,270),(300,230),(301,260),(302,240),(303,280),(304,250),
(305,300),(306,260),(307,280),(308,250),(309,420),(310,240),(311,200),(312,220),(313,250),(314,230),(315,270),(316,250),(317,290),
(318,260),(319,300),(320,270),(321,290),(322,260),(323,300),(324,280),(325,310),(326,290),(327,320),(328,300),(329,330),(330,310),
(331,340),(332,320),(333,350),(334,330),(335,320),
(336,300),(337,270),(338,290),(339,260),(340,280),(341,250),(342,270),(343,240),(344,225),(345,235),(346,215),(347,225),(348,210),
(349,230),(350,215),(351,240),(352,220),(353,250),(354,230),(355,260),(356,240),(357,270),(358,260),(359,290),(360,270),(361,300),
(362,280),(363,310),(364,270),(365,300),(366,260),(367,290),(368,310),(369,270),(370,250),(371,270),(372,240),(373,260),(374,230),
(375,250),(376,220),(377,240),(378,210),(379,230),(380,200),(381,230),(382,210),(383,240),(384,200),(385,185),(386,200),(387,230),
(388,220),(389,245),(390,230),(391,250),(392,225),(393,245),(394,230),(395,250),(396,240),(397,260),(398,250),(399,275),(400,260),
(401,290),(402,270),(403,300),(404,280),(405,320),(406,300),(407,330),(408,340),(409,300),(410,280),(411,310),(412,270),(413,290),
(414,260),(415,280),(416,270),(417,300),(418,290),(419,320),(420,340),(421,300),(422,270),(423,250),(424,270),(425,240),(426,260),
(427,230),(428,255),(429,240),(430,270),(431,250),(432,280),(433,260),(434,300),(435,320),(436,350),(437,365),(438,300),(439,270),
(440,250),(441,240),(442,260),(443,230),(444,250),(445,240),(446,270),(447,250),(448,280),(449,260),(450,240),(451,260),(452,230),
(453,250),(454,240),(455,260),(456,245),(457,230),(458,240),(459,220),(460,230),(461,215),(462,225),(463,210),(464,220),(465,200),
(466,210),(467,220),(468,235),(469,225),(470,240),(471,220),(472,230),(473,215),(474,225),(475,210),(476,220),(477,230),(478,215),
(479,225),(480,210),(481,220),(482,205),(483,215),(484,210),(485,225),(486,210),(487,220),(488,240),(489,260),(490,280),(491,300),
(492,320),(493,310),(494,325),(495,300),(496,280),(497,260),(498,270),(499,250),(500,260),(501,240),(502,255),(503,235),(504,250),
(505,240),(506,265),(507,250),(508,270),(509,255),(510,280),(511,265),(512,290),(513,270),(514,295),(515,310),(516,290),(517,260),
(518,270),(519,245),(520,255),(521,240),(522,250),(523,235),(524,250),(525,240),(526,260),(527,245),(528,255),(529,240),(530,250),
(531,235),(532,245),(533,230),(534,240),(535,250),(536,240),(537,255),(538,245),(539,260),(540,240),(541,250),(542,235),(543,245),
(544,230),(545,240),(546,220),(547,230),(548,210),(549,225),(550,205),(551,220),(552,200),(553,190),(554,195),(555,180),(556,210),
(557,240),(558,260),(559,250),(560,270),(561,290),(562,300),(563,310),(564,290),(565,305),(566,280),(567,300),(568,270),(569,290),
(570,260),(571,280),(572,250),(573,270),(574,240),(575,260),(576,200),(577,250),(578,270),(579,260),(580,280),(581,250),(582,270),
(583,240),(584,260),(585,235),(586,250),(587,240),(588,260),(589,230),(590,250),(591,225),(592,240),(593,215),(594,235),(595,205),
(596,220),(597,195),(598,200),(599,180),(600,210),(601,240),(602,260),(603,250),(604,275),(605,260),(606,280),(607,265),(608,285),
(609,260),(610,275),(611,255),(612,270),(613,250),(614,265),(615,245),(616,260),(617,250),(618,270),(619,260),(620,285),(621,270),
(622,290),(623,275),(624,295),(625,280),(626,300),(627,310),(628,305),(629,290),(630,270),(631,250),(632,235),(633,240),(634,225),
(635,235),(636,220),(637,230),(638,215),(639,225),(640,210),(641,220),(642,205),(643,215),(644,208),(645,220),(646,240),(647,260),
(648,280),(649,300),(650,310),(651,290),(652,280),(653,300),(654,270),(655,290),(656,320),(657,330),(658,340),(659,310),(660,280),
(661,260),(662,270),(663,250),(664,240),(665,230),(666,240),(667,225),(668,235),(669,220),(670,230),(671,215),(672,225),(673,210),
(674,220),(675,205),(676,215),(677,200),(678,210),(679,195),(680,215),(681,200),(682,210),(683,195),(684,200),(685,220),(686,245),
(687,230),(688,260),(689,250),(690,275),(691,300),(692,330),(693,390),(694,360),(695,420),(696,340),(697,300),(698,330),(699,400),
(700,450),(701,420),(702,380),(703,330),(704,300),(705,340),(706,310),(707,280),(708,320),(709,290),(710,300),(711,270),(712,290),
(713,260),(714,300),(715,330),(716,370),(717,400),(718,340),(719,300),(720,270),(721,250),(722,270),(723,240),(724,260),(725,235),
(726,255),(727,240),(728,280),(729,310),(730,270),(731,250),(732,270),(733,240),(734,260),(735,250),(736,275),(737,300),(738,340),
(739,360),(740,380),(741,320),(742,270),(743,250),(744,240),(745,260),(746,235),(747,250),(748,230),(749,245),(750,225),(751,240),
(752,220),(753,230),(754,210),(755,225),(756,205),(757,215),(758,200),(759,210),(760,195),(761,205),(762,185),(763,200),(764,215),
(765,230),(766,250),(767,240),(768,270),(769,255),(770,280),(771,260),(772,250),(773,270),(774,245),(775,265),(776,240),(777,260),
(778,235),(779,255),(780,230),(781,250),(782,235),(783,260),(784,245),(785,270),(786,255),(787,290),(788,310),(789,330),(790,340),
(791,320),(792,300),(793,310),(794,290),(795,300),(796,280),(797,290),(798,270),(799,280),(800,265),
]

na_upper, na_lower = 114, 35.5     # red dashed reference levels (ssNa+)
so4_level = 267                    # orange dashed reference level (SO4 2-)

x_ticks = [0, 200, 400, 600, 800]
dD_ticks = [-460, -440, -420, -400, -380, -360]
ca_ticks = [0.1, 1, 10, 100, 1000]
na_ticks = [10, 100]
so4_ticks = [100, 1000]

# ---------------- figure ----------------
W, H = 1541, 964
fig = plt.figure(figsize=(W / 100, H / 100), dpi=100)
fig.patch.set_facecolor('white')
L, R, T, B = 140, 1305, 18, 858
ax = fig.add_axes([L / W, 1 - B / H, (R - L) / W, (B - T) / H])
ax_ca = ax.twinx()
ax_na = ax.twinx()
ax_so = ax.twinx()

def unz(p):
    p = sorted(p)
    return [a for a, _ in p], [v for _, v in p]

a, v = unz(dD_pts)
ax.plot(a, v, color='black', lw=1.35, zorder=3)
a, v = unz(ca_pts)
ax_ca.plot(a, v, color='#9a2fd0', lw=1.25)
a, v = unz(na_pts)
ax_na.plot(a, v, color='#4a86f2', lw=1.25)
a, v = unz(so4_pts)
ax_so.plot(a, v, color='#f98a22', lw=1.25)

# reference levels
for lvl in (na_upper, na_lower):
    ln, = ax_na.plot([-10, 845], [lvl, lvl], color='#ff2020', lw=2.2, clip_on=False, zorder=5)
    ln.set_dashes([6.5, 4.0])
ln, = ax_so.plot([-38, 803], [so4_level, so4_level], color='#e27f0c', lw=4.2, clip_on=False, zorder=5,
                 path_effects=[pe.SimpleLineShadow(offset=(1.5, -2.5), shadow_color='#444444', alpha=0.45),
                               pe.Normal()])
ln.set_dashes([3.8, 2.6])

# ---------------- axes styling ----------------
ax.set_xlim(0, 800)
ax.set_ylim(-360 - 838 / 2.57, -360 + 2 / 2.57)

ax_ca.set_yscale('log')
ax_ca.set_ylim(10 ** -7.02, 10 ** 6.05)
ax_na.set_yscale('log')
ax_na.set_ylim(10 ** -0.206, 10 ** 5.044)
ax_so.set_yscale('log')
ax_so.set_ylim(10 ** 1.997, 10 ** 5.26)

spine_col = '#5a5a5a'
for s in ax.spines.values():
    s.set_color(spine_col)
    s.set_linewidth(1.8)
for t in (ax_ca, ax_na, ax_so):
    for s in t.spines.values():
        s.set_visible(False)

tick_font = 22
ax.xaxis.set_major_locator(ticker.FixedLocator(x_ticks))
ax.xaxis.set_minor_locator(ticker.FixedLocator([x for x in range(50, 800, 50) if x % 200]))
ax.tick_params(axis='x', which='both', direction='in', top=True, bottom=True, color='#444444', width=1.2,
               labelsize=tick_font, pad=19)
ax.tick_params(axis='x', which='major', length=12)
ax.tick_params(axis='x', which='minor', length=7)

ax.yaxis.set_major_locator(ticker.FixedLocator(dD_ticks))
ax.yaxis.set_minor_locator(ticker.FixedLocator(list(range(-460, -359, 4))))
ax.yaxis.set_major_formatter(ticker.FuncFormatter(lambda y, p: f'{int(y)}'))
ax.tick_params(axis='y', which='both', direction='in', left=True, right=False, color='#444444', width=1.2,
               labelsize=tick_font, pad=10)
ax.tick_params(axis='y', which='major', length=12)
ax.tick_params(axis='y', which='minor', length=6)

fmt = ticker.FuncFormatter(lambda y, p: f'{y:g}')

ax_ca.yaxis.set_major_locator(ticker.FixedLocator(ca_ticks))
ax_ca.yaxis.set_minor_locator(ticker.FixedLocator([k * 10.0 ** n for n in range(-1, 3) for k in range(2, 10)]))
ax_ca.yaxis.set_major_formatter(fmt)
ax_ca.yaxis.set_minor_formatter(ticker.NullFormatter())
ax_ca.tick_params(axis='y', which='both', direction='in', color='#444444', width=1.2, labelsize=tick_font, pad=13)
ax_ca.tick_params(axis='y', which='major', length=12)
ax_ca.tick_params(axis='y', which='minor', length=6)

ax_na.yaxis.tick_left()
ax_na.yaxis.set_major_locator(ticker.FixedLocator(na_ticks))
ax_na.yaxis.set_minor_locator(ticker.FixedLocator([20, 30, 40, 50, 60, 70, 80, 90, 200, 300, 400]))
ax_na.yaxis.set_major_formatter(fmt)
ax_na.yaxis.set_minor_formatter(ticker.NullFormatter())
ax_na.tick_params(axis='y', which='both', direction='in', left=True, right=False, color='#444444', width=1.2,
                  labelsize=tick_font, pad=12)
ax_na.tick_params(axis='y', which='major', length=12)
ax_na.tick_params(axis='y', which='minor', length=6)

ax_so.yaxis.set_major_locator(ticker.FixedLocator(so4_ticks))
ax_so.yaxis.set_minor_locator(ticker.FixedLocator([200, 300, 400, 500, 600, 700, 800, 900]))
ax_so.yaxis.set_major_formatter(fmt)
ax_so.yaxis.set_minor_formatter(ticker.NullFormatter())
ax_so.tick_params(axis='y', which='both', direction='in', color='#444444', width=1.2, labelsize=tick_font, pad=13)
ax_so.tick_params(axis='y', which='major', length=12)
ax_so.tick_params(axis='y', which='minor', length=6)

# ---------------- texts ----------------
fig.text(30 / W, 1 - 150 / H, 'δD  [°/₀₀]', rotation=90, ha='center', va='center', fontsize=22)
fig.text(35 / W, 1 - 528 / H, r'ssNa$^{+}$ flux  [ng/cm$^{2}$yr]', rotation=90, ha='center', va='center',
         fontsize=22, fontweight='bold')
fig.text(1415 / W, 1 - 332 / H, r'nssCa$^{2+}$ flux  [ng/cm$^{2}$yr]', rotation=90, ha='center', va='center',
         fontsize=22, fontweight='bold')
fig.text(1415 / W, 1 - 712 / H, r'SO$_{4}^{2-}$ flux  [ng/cm$^{2}$yr]', rotation=90, ha='center', va='center',
         fontsize=22, fontweight='bold')
fig.text(724 / W, 1 - 933 / H, 'EDC3 age  [kyr before present]', ha='center', va='center',
         fontsize=23, fontweight='bold')
fig.text(1352 / W, 1 - 942 / H, '(Wolff et al., 2006)', ha='center', va='center', fontsize=27, fontweight='bold')
fig.text(928 / W, 1 - 76 / H, 'EPICA Dome C', ha='center', va='center', fontsize=22, fontweight='bold',
         fontstyle='italic')

fig.savefig('out.png', dpi=100, facecolor='white')
